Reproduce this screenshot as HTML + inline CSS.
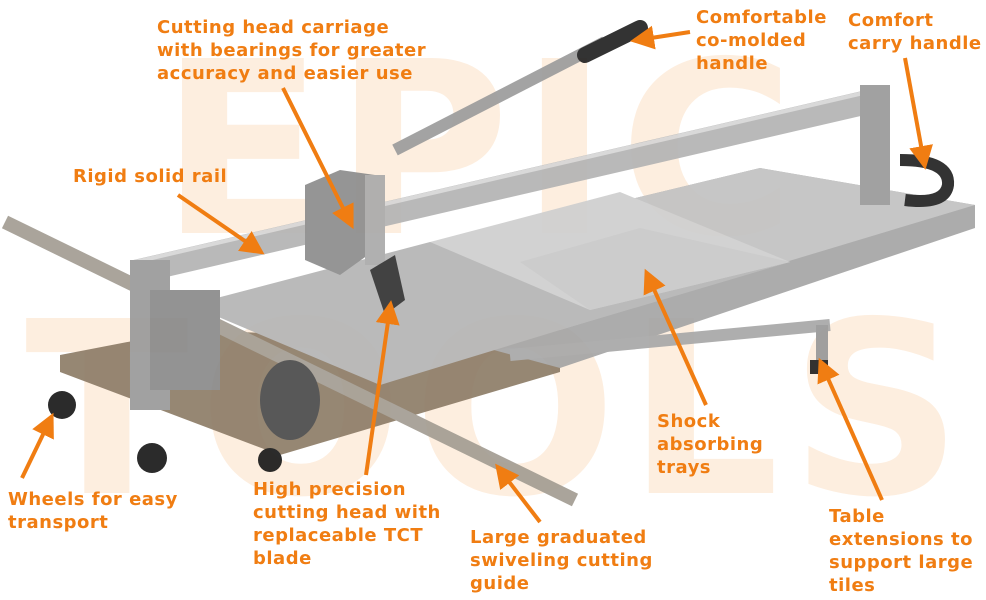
<!DOCTYPE html>
<html><head><meta charset="utf-8"><style>
html,body{margin:0;padding:0;background:#fff;}
#c{position:relative;width:986px;height:600px;overflow:hidden;background:#fff;font-family:"DejaVu Sans","Liberation Sans",sans-serif;}
.l{position:absolute;color:#f07d12;font-weight:bold;font-size:18px;letter-spacing:0.5px;line-height:23px;white-space:nowrap;}
.wm{position:absolute;color:#fdeedf;font-family:"DejaVu Sans",sans-serif;font-weight:bold;letter-spacing:10px;}
</style></head><body><div id="c">
<div class="wm" style="left:160px;top:30px;font-size:240px;line-height:240px;">EPIC</div>
<div class="wm" style="left:25px;top:290px;font-size:240px;line-height:240px;">TOOLS</div>
<svg width="986" height="600" style="position:absolute;left:0;top:0">
<g opacity="0.92">
<polygon points="60,355 190,330 560,345 560,372 280,455 60,372" fill="#8e7d68"/>
<polygon points="420,250 760,168 975,205 975,228 560,368 420,330" fill="#a5a5a5"/>
<polygon points="420,250 760,168 975,205 560,330" fill="#c2c2c2"/>
<polygon points="190,305 430,242 790,262 560,330 380,385" fill="#b5b5b5"/>
<polygon points="430,242 620,192 790,262 590,310" fill="#cfcfcf"/>
<polygon points="520,262 640,228 790,262 590,310" fill="#c8c8c8"/>
<line x1="135" y1="272" x2="885" y2="98" stroke="#b4b4b4" stroke-width="24"/>
<line x1="135" y1="262" x2="885" y2="88" stroke="#d6d6d6" stroke-width="4"/>
<rect x="860" y="85" width="30" height="120" fill="#9a9a9a"/>
<line x1="395" y1="150" x2="605" y2="42" stroke="#9c9c9c" stroke-width="12"/>
<line x1="585" y1="55" x2="640" y2="28" stroke="#222" stroke-width="16" stroke-linecap="round"/>
<path d="M900 160 Q950 160 948 185 Q945 205 905 200" fill="none" stroke="#222" stroke-width="12"/>
<polygon points="305,185 340,170 375,175 375,250 340,275 305,260" fill="#8d8d8d"/>
<rect x="365" y="175" width="20" height="90" fill="#aaa"/>
<polygon points="370,270 395,255 405,300 385,315" fill="#333"/>
<line x1="5" y1="222" x2="575" y2="500" stroke="#a39d93" stroke-width="14"/>
<line x1="510" y1="355" x2="830" y2="325" stroke="#a8a8a8" stroke-width="12"/>
<line x1="822" y1="325" x2="822" y2="365" stroke="#999" stroke-width="12"/>
<rect x="810" y="360" width="18" height="14" fill="#222"/>
<rect x="130" y="260" width="40" height="150" fill="#9a9a9a"/>
<rect x="150" y="290" width="70" height="100" fill="#8a8a8a"/>
<circle cx="62" cy="405" r="14" fill="#1a1a1a"/>
<circle cx="152" cy="458" r="15" fill="#1a1a1a"/>
<circle cx="270" cy="460" r="12" fill="#1a1a1a"/>
<ellipse cx="290" cy="400" rx="30" ry="40" fill="#4a4a4a"/>
</g>
<defs><marker id="a" markerWidth="6" markerHeight="6" refX="4" refY="3" orient="auto"><path d="M0,0 L6,3 L0,6 z" fill="#f07d12"/></marker></defs>
<g stroke="#f07d12" stroke-width="4" marker-end="url(#a)">
<line x1="283" y1="88" x2="350" y2="222"/>
<line x1="690" y1="32" x2="638" y2="40"/>
<line x1="905" y1="58" x2="924" y2="162"/>
<line x1="178" y1="195" x2="258" y2="250"/>
<line x1="706" y1="405" x2="648" y2="276"/>
<line x1="22" y1="478" x2="50" y2="420"/>
<line x1="366" y1="475" x2="390" y2="308"/>
<line x1="540" y1="522" x2="500" y2="470"/>
<line x1="882" y1="500" x2="822" y2="365"/>
</g>
</svg>
<div class="l" style="left:157px;top:16px;">Cutting head carriage<br>with bearings for greater<br>accuracy and easier use</div>
<div class="l" style="left:696px;top:6px;">Comfortable<br>co-molded<br>handle</div>
<div class="l" style="left:848px;top:9px;">Comfort<br>carry handle</div>
<div class="l" style="left:73px;top:165px;">Rigid solid rail</div>
<div class="l" style="left:657px;top:410px;">Shock<br>absorbing<br>trays</div>
<div class="l" style="left:8px;top:488px;">Wheels for easy<br>transport</div>
<div class="l" style="left:253px;top:478px;">High precision<br>cutting head with<br>replaceable TCT<br>blade</div>
<div class="l" style="left:470px;top:526px;">Large graduated<br>swiveling cutting<br>guide</div>
<div class="l" style="left:829px;top:505px;">Table<br>extensions to<br>support large<br>tiles</div>
</div></body></html>
